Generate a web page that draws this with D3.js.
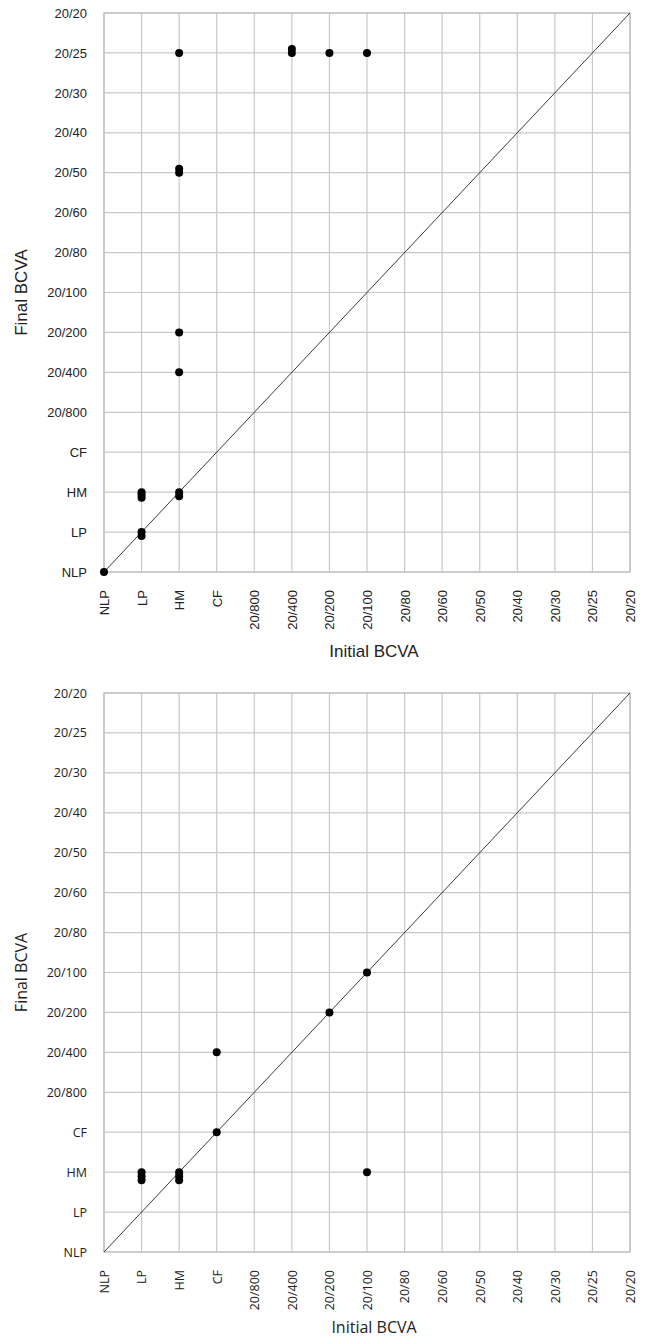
<!DOCTYPE html>
<html><head><meta charset="utf-8">
<script src="https://cdn.jsdelivr.net/npm/d3@7"></script>
<style>body{margin:0;background:#fff}svg{display:block}</style>
</head><body>
<svg id="c" width="650" height="1340"></svg>
<script>
// Category labels (index 0 = NLP ... 14 = 20/20)
const categories = ["NLP","LP","HM","CF","20/800","20/400","20/200","20/100","20/80","20/60","20/50","20/40","20/30","20/25","20/20"];
// Chart 1 points: initial index, final index (small offsets = stacked markers)
const initial1 = [0, 1, 1, 1, 1, 1, 2, 2, 2, 2, 2, 2, 2, 5, 5, 6, 7];
const final1   = [0, 2, 1.93, 1.86, 1, 0.9, 2, 1.9, 5, 6, 10, 10.1, 13, 13, 13.1, 13, 13];
// Chart 2 points
const initial2 = [1, 1, 1, 2, 2, 2, 3, 3, 6, 7, 7];
const final2   = [2, 1.9, 1.8, 2, 1.9, 1.8, 3, 5, 6, 7, 2];
const xTitle = "Initial BCVA";
const yTitle = "Final BCVA";

const svg = d3.select("#c");

function drawChart(top, initial, final, font, tickSize, titleSize, titleOffset) {
  const left = 104, W = 526, H = 559;
  const g = svg.append("g").attr("transform", `translate(${left},${top})`);
  const x = d3.scaleLinear().domain([0, categories.length - 1]).range([0, W]);
  const y = d3.scaleLinear().domain([0, categories.length - 1]).range([H, 0]);
  const idx = d3.range(categories.length);

  // grid
  g.append("g").selectAll("line.v").data(idx).join("line")
    .attr("x1", d => x(d)).attr("x2", d => x(d)).attr("y1", 0).attr("y2", H)
    .attr("stroke", "#c8c8c8").attr("stroke-width", 1.2);
  g.append("g").selectAll("line.h").data(idx).join("line")
    .attr("y1", d => y(d)).attr("y2", d => y(d)).attr("x1", 0).attr("x2", W)
    .attr("stroke", "#c8c8c8").attr("stroke-width", 1.2);
  g.append("rect").attr("width", W).attr("height", H)
    .attr("fill", "none").attr("stroke", "#bdbdbd").attr("stroke-width", 1.2);

  // axes labels
  const ya = d3.axisLeft(y).tickValues(idx).tickFormat(d => categories[d]).tickSize(0).tickPadding(17);
  const yg = g.append("g").call(ya);
  yg.select(".domain").remove();
  yg.selectAll("text").attr("font-family", font).attr("font-size", tickSize).attr("fill", "#222");

  const xa = d3.axisBottom(x).tickValues(idx).tickFormat(d => categories[d]).tickSize(0);
  const xg = g.append("g").attr("transform", `translate(0,${H})`).call(xa);
  xg.select(".domain").remove();
  xg.selectAll("text").attr("font-family", font).attr("font-size", tickSize).attr("fill", "#222")
    .attr("transform", "rotate(-90)").attr("text-anchor", "end")
    .attr("x", -18).attr("y", 0).attr("dy", "0.35em");

  // diagonal
  g.append("line").attr("x1", x(0)).attr("y1", y(0)).attr("x2", x(14)).attr("y2", y(14))
    .attr("stroke", "#3a3a3a").attr("stroke-width", 1);

  // points
  g.append("g").selectAll("circle").data(initial.map((v, i) => [v, final[i]])).join("circle")
    .attr("cx", d => x(d[0])).attr("cy", d => y(d[1])).attr("r", 4).attr("fill", "#000");

  // titles
  g.append("text").attr("x", W / 2 + 7).attr("y", H + titleOffset).attr("text-anchor", "middle")
    .attr("font-family", font).attr("font-size", titleSize).attr("fill", "#222").text(xTitle);
  g.append("text").attr("transform", `translate(${21 - left},${H / 2}) rotate(-90)`)
    .attr("text-anchor", "middle").attr("dy", "0.35em")
    .attr("font-family", font).attr("font-size", titleSize).attr("fill", "#222").text(yTitle);
}

drawChart(13, initial1, final1, "Arial, 'Liberation Sans', sans-serif", 13, 17, 85);
drawChart(693, initial2, final2, "'Open Sans', sans-serif", 12.5, 16, 81);
</script>
</body></html>
